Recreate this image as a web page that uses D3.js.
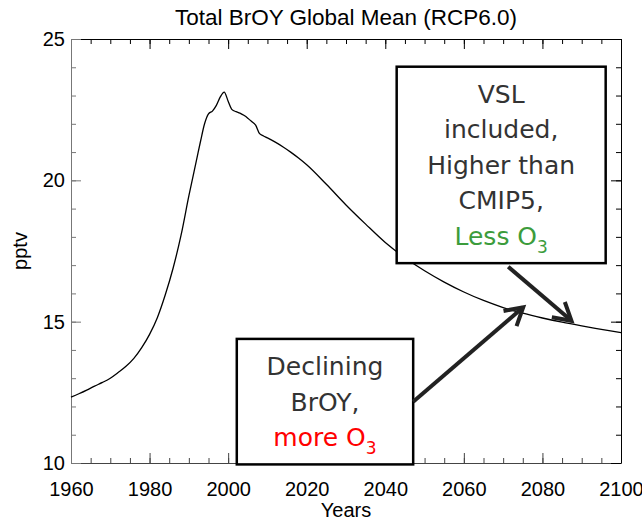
<!DOCTYPE html>
<html>
<head>
<meta charset="utf-8">
<script src="https://cdn.jsdelivr.net/npm/d3@7"></script>
<style>
  body { margin: 0; background: #fff; }
  svg text { font-family: "Liberation Sans", Arial, sans-serif; }
  .note text { font-family: "DejaVu Sans", Verdana, sans-serif; }
</style>
</head>
<body>
<div id="chart"></div>
<script>
// BrOY global mean, pptv
const years = [1960, 1962, 1964, 1966, 1968, 1970, 1972, 1974, 1976, 1978,
  1980, 1982, 1984, 1986, 1988, 1990, 1992, 1993, 1994, 1995, 1996, 1997,
  1998, 1999, 2000, 2001, 2002, 2003, 2004, 2005, 2006, 2007, 2008, 2009,
  2010, 2012, 2014, 2016, 2018, 2020, 2025, 2030, 2035, 2040, 2045, 2050,
  2055, 2060, 2065, 2070, 2075, 2080, 2085, 2090, 2095, 2100];
const broy = [12.33, 12.45, 12.58, 12.72, 12.85, 13.0, 13.2, 13.42, 13.7, 14.08,
  14.55, 15.15, 15.95, 16.9, 18.05, 19.45, 20.75, 21.4, 22.0, 22.35, 22.45, 22.65,
  22.95, 23.12, 22.8, 22.5, 22.43, 22.38, 22.3, 22.2, 22.08, 21.95, 21.65, 21.57,
  21.5, 21.35, 21.18, 20.99, 20.78, 20.55, 19.86, 19.13, 18.45, 17.8, 17.26, 16.8,
  16.4, 16.05, 15.75, 15.5, 15.3, 15.13, 14.98, 14.85, 14.73, 14.61];

const xTicks = [1960, 1980, 2000, 2020, 2040, 2060, 2080, 2100];
const xMinor = d3.range(1960, 2101, 5);
const yTicks = [10, 15, 20, 25];
const yMinor = d3.range(10, 25.01, 1);

const title = "Total BrOY Global Mean (RCP6.0)";
const xLabel = "Years";
const yLabel = "pptv";

// annotation boxes in data space: [x0, x1] years, [yTop, yBottom] pptv
const noteBoxes = [
  { x: [2042.9, 2096.1], y: [24.02, 17.07],
    lines: [["VSL"], ["included,"], ["Higher than"], ["CMIP5,"], ["Less O", "3", "#3c9c3c"]] },
  { x: [2002.2, 2047.1], y: [14.39, 9.95],
    lines: [["Declining"], ["BrOY,"], ["more O", "3", "#ff0000"]] }
];
const arrows = [
  { from: [2047.1, 12.17], to: [2075.1, 15.51] },
  { from: [2071.3, 16.94], to: [2087.4, 15.03] }
];

const width = 642, height = 520;
const margin = {top: 39, right: 21, bottom: 57, left: 71};

const svg = d3.select("#chart").append("svg")
  .attr("width", width).attr("height", height);

const x = d3.scaleLinear().domain([1960, 2100]).range([margin.left, width - margin.right]);
const y = d3.scaleLinear().domain([10, 25]).range([height - margin.bottom, margin.top]);

const x0 = x.range()[0], x1 = x.range()[1];
const yb = y.range()[0], yt = y.range()[1];

function styleAxis(g, color) {
  g.selectAll("path, line").attr("stroke", color).attr("stroke-width", 1);
  g.selectAll("text").attr("fill", "#000").attr("font-size", 20)
   .attr("font-family", "Liberation Sans, Arial, sans-serif");
}

// minor ticks first
svg.append("g").attr("transform", `translate(0,${yb})`)
  .call(d3.axisBottom(x).tickValues(xMinor).tickSize(-5).tickFormat(""))
  .call(g => { g.select(".domain").remove(); styleAxis(g, "#444"); });
svg.append("g").attr("transform", `translate(0,${yt})`)
  .call(d3.axisTop(x).tickValues(xMinor).tickSize(-5).tickFormat(""))
  .call(g => { g.select(".domain").remove(); styleAxis(g, "#000"); });
svg.append("g").attr("transform", `translate(${x0},0)`)
  .call(d3.axisLeft(y).tickValues(yMinor).tickSize(-5).tickFormat(""))
  .call(g => { g.select(".domain").remove(); styleAxis(g, "#777"); });
svg.append("g").attr("transform", `translate(${x1},0)`)
  .call(d3.axisRight(y).tickValues(yMinor).tickSize(-5).tickFormat(""))
  .call(g => { g.select(".domain").remove(); styleAxis(g, "#000"); });

// major ticks + labels
svg.append("g").attr("transform", `translate(0,${yb})`)
  .call(d3.axisBottom(x).tickValues(xTicks).tickSize(-10).tickSizeOuter(0).tickFormat(d3.format("d")))
  .call(g => {
    styleAxis(g, "#444");
    g.selectAll("text").attr("y", 19).attr("dy", "0.71em");
  });
svg.append("g").attr("transform", `translate(0,${yt})`)
  .call(d3.axisTop(x).tickValues(xTicks).tickSize(-10).tickSizeOuter(0).tickFormat(""))
  .call(g => styleAxis(g, "#000"));
svg.append("g").attr("transform", `translate(${x0},0)`)
  .call(d3.axisLeft(y).tickValues(yTicks).tickSize(-10).tickSizeOuter(0).tickPadding(6).tickFormat(d3.format("d")))
  .call(g => styleAxis(g, "#777"));
svg.append("g").attr("transform", `translate(${x1},0)`)
  .call(d3.axisRight(y).tickValues(yTicks).tickSize(-10).tickSizeOuter(0).tickFormat(""))
  .call(g => styleAxis(g, "#000"));

// the curve
const line = d3.line()
  .x((d, i) => x(years[i]))
  .y(d => y(d))
  .curve(d3.curveMonotoneX);

svg.append("path")
  .datum(broy)
  .attr("fill", "none")
  .attr("stroke", "#000")
  .attr("stroke-width", 1.3)
  .attr("d", line);

// titles
svg.append("text")
  .attr("x", (x0 + x1) / 2).attr("y", 25)
  .attr("text-anchor", "middle").attr("font-size", 22.5)
  .text(title);
svg.append("text")
  .attr("x", (x0 + x1) / 2).attr("y", 517)
  .attr("text-anchor", "middle").attr("font-size", 20)
  .text(xLabel);
svg.append("text")
  .attr("transform", `translate(27,${(yt + yb) / 2}) rotate(-90)`)
  .attr("text-anchor", "middle").attr("font-size", 20)
  .text(yLabel);

// annotation boxes
const notes = svg.append("g").attr("class", "note");
noteBoxes.forEach(b => {
  const bx0 = x(b.x[0]), bx1 = x(b.x[1]);
  const by0 = y(b.y[0]), by1 = y(b.y[1]);
  notes.append("rect")
    .attr("x", bx0).attr("y", by0)
    .attr("width", bx1 - bx0).attr("height", by1 - by0)
    .attr("fill", "#fff").attr("stroke", "#000").attr("stroke-width", 2.5);
  const lh = 35.5;
  const cy = (by0 + by1) / 2;
  const first = cy - lh * (b.lines.length - 1) / 2;
  b.lines.forEach((ln, i) => {
    const t = notes.append("text")
      .attr("x", (bx0 + bx1) / 2)
      .attr("y", first + i * lh + 9)
      .attr("text-anchor", "middle")
      .attr("font-size", 25)
      .attr("fill", ln[2] || "#333");
    t.append("tspan").text(ln[0]);
    if (ln[1]) {
      t.append("tspan").attr("font-size", 17).attr("dy", 8).text(ln[1]);
    }
  });
});

// arrows
arrows.forEach(a => {
  const sx = x(a.from[0]), sy = y(a.from[1]);
  const tx = x(a.to[0]), ty = y(a.to[1]);
  const ang = Math.atan2(ty - sy, tx - sx);
  const len = 20, spread = Math.PI / 6;
  const w1 = [tx - len * Math.cos(ang - spread), ty - len * Math.sin(ang - spread)];
  const w2 = [tx - len * Math.cos(ang + spread), ty - len * Math.sin(ang + spread)];
  const g = svg.append("g").attr("stroke", "#222").attr("stroke-width", 4).attr("fill", "none");
  g.append("line").attr("x1", sx).attr("y1", sy).attr("x2", tx).attr("y2", ty);
  g.append("path")
    .attr("d", `M${w1[0]},${w1[1]}L${tx},${ty}L${w2[0]},${w2[1]}`)
    .attr("stroke-linejoin", "miter");
});
</script>
</body>
</html>
